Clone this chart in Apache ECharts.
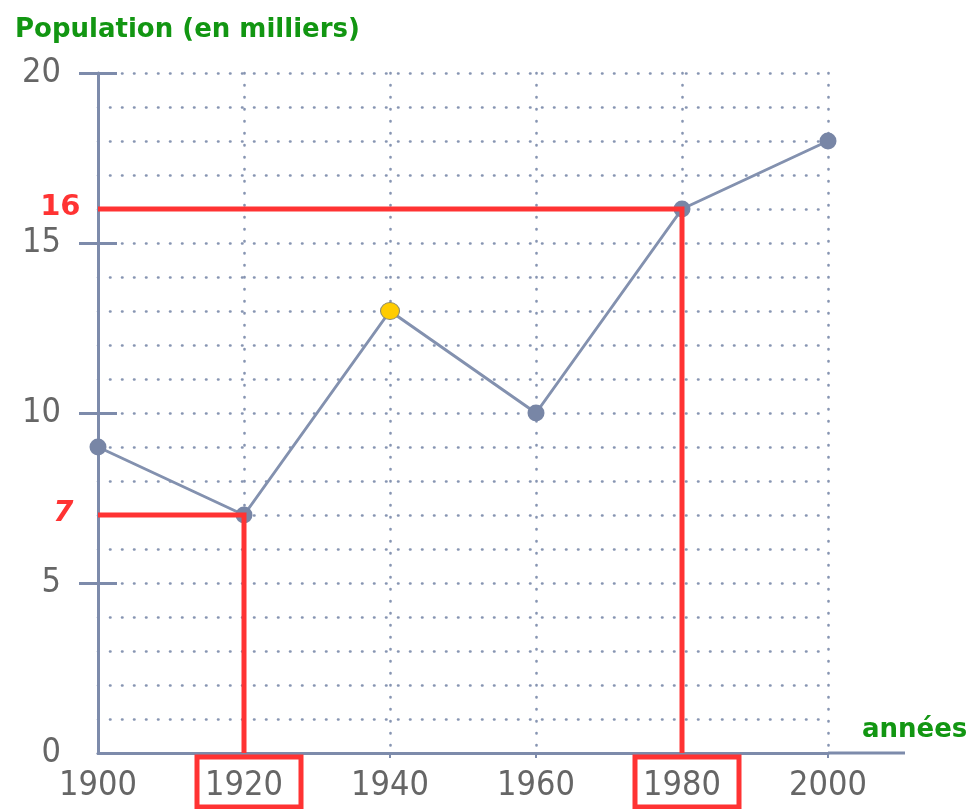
<!DOCTYPE html>
<html><head><meta charset="utf-8">
<script src="https://cdn.jsdelivr.net/npm/echarts@6/dist/echarts.min.js"></script>
<style>html,body{margin:0;padding:0;background:#fff}#c{width:967px;height:809px}</style>
</head><body><div id="c"></div>
<script>
// ---- data ----
const years = [1900, 1920, 1940, 1960, 1980, 2000];
const population = [9, 7, 13, 10, 16, 18];
const yTickLabels = [0, 5, 10, 15, 20];
const yTickMarks = [5, 10, 15, 20];
const xTickLabels = [1900, 1920, 1940, 1960, 1980, 2000];
const readYears = [1920, 1980];
const readValues = [7, 16];
const highlightYear = 1940;

// ---- styles ----
const AXIS = '#7d8bab';
const DOT = '#8795b2';
const RED = '#ff3333';
const GREEN = '#129612';
const TXT = '#666666';
const LBL_FONT = 'DejaVu Sans Condensed';
const dotted = {color: DOT, width: 2.6, type: [0.5, 11.5], cap: 'round'};

const chart = echarts.init(document.getElementById('c'), null, {renderer: 'canvas'});

const mainData = years.map((y, i) => {
  const d = {value: [y, population[i]]};
  if (y === highlightYear) {
    d.itemStyle = {color: '#ffcc00', borderColor: '#8a8a70', borderWidth: 1};
    d.symbolSize = [19, 17];
  }
  return d;
});

const redSeries = readYears.map((yr, i) => ({
  type: 'line',
  z: 10,
  silent: true,
  symbol: 'none',
  clip: false,
  lineStyle: {color: RED, width: 5, cap: 'butt', join: 'miter'},
  data: [[years[0], readValues[i]], [yr, readValues[i]], [yr, 0]]
}));

const redLabels = {
  type: 'scatter', z: 11, silent: true, clip: false,
  symbol: 'circle', symbolSize: 1,
  itemStyle: {color: 'rgba(0,0,0,0)', opacity: 1},
  data: readValues.map(v => ({
    value: [years[0], v],
    label: {distance: v < 10 ? 24 : 17, fontStyle: v < 10 ? 'italic' : 'normal'}
  })),
  label: {
    show: true, position: 'left', offset: [0, -2],
    formatter: p => String(p.value[1]),
    color: RED, fontWeight: 'bold', fontSize: 29, fontFamily: 'DejaVu Sans'
  }
};

chart.setOption({
  animation: false,
  backgroundColor: '#fff',
  title: {
    text: 'Population (en milliers)', left: 10, top: 12,
    textStyle: {color: GREEN, fontWeight: 'bold', fontSize: 26, fontFamily: 'DejaVu Sans'}
  },
  grid: {left: 98, right: 139, top: 73, bottom: 56, containLabel: false, outerBoundsMode: 'none'},
  xAxis: {
    type: 'value', min: 1900, max: 2000, interval: 20,
    name: 'années', nameLocation: 'end', nameGap: 34,
    nameTextStyle: {color: GREEN, fontWeight: 'bold', fontSize: 26, fontFamily: 'DejaVu Sans',
      align: 'left', verticalAlign: 'bottom', padding: [0, 0, 10, 0]},
    axisLine: {show: true, lineStyle: {color: AXIS, width: 3}},
    axisTick: {show: true, length: 5, lineStyle: {color: AXIS, width: 2}, customValues: xTickLabels.slice(1)},
    axisLabel: {color: TXT, fontSize: 34, fontFamily: LBL_FONT, margin: 16,
      customValues: xTickLabels, formatter: v => String(v)},
    splitLine: {show: true, lineStyle: dotted}
  },
  yAxis: [{
    type: 'value', min: 0, max: 20, interval: 1,
    axisLine: {show: true, lineStyle: {color: AXIS, width: 3}},
    axisTick: {show: false},
    axisLabel: {color: TXT, fontSize: 34, fontFamily: LBL_FONT, margin: 37,
      customValues: yTickLabels, formatter: v => String(v)},
    splitLine: {show: true, lineStyle: dotted}
  }, {
    type: 'value', min: 0, max: 20, interval: 5, position: 'left', offset: 0,
    axisLine: {show: false},
    axisTick: {show: true, inside: true, length: 19, lineStyle: {color: AXIS, width: 3}, customValues: yTickMarks},
    axisLabel: {show: false},
    splitLine: {show: false}
  }, {
    type: 'value', min: 0, max: 20, interval: 5, position: 'left', offset: 0,
    axisLine: {show: false},
    axisTick: {show: true, inside: false, length: 19, lineStyle: {color: AXIS, width: 3}, customValues: yTickMarks},
    axisLabel: {show: false},
    splitLine: {show: false}
  }],
  series: [{
    type: 'line', z: 5,
    data: mainData,
    symbol: 'circle', symbolSize: 17,
    itemStyle: {color: '#7886a6'},
    lineStyle: {color: '#8391af', width: 3}
  }].concat(redSeries, [redLabels])
});

// decoration: axis extension, red boxes around read-off labels
const origin = chart.convertToPixel({xAxisIndex: 0, yAxisIndex: 0}, [2000, 0]);
const graphics = [{
  type: 'line', z: 4,
  shape: {x1: origin[0], y1: origin[1], x2: origin[0] + 77, y2: origin[1]},
  style: {stroke: AXIS, lineWidth: 3}
}];
readYears.forEach(yr => {
  const p = chart.convertToPixel({xAxisIndex: 0, yAxisIndex: 0}, [yr, 0]);
  graphics.push({
    type: 'rect', z: 20,
    shape: {x: p[0] - 47, y: p[1] + 4, width: 104, height: 50},
    style: {fill: 'none', stroke: RED, lineWidth: 5}
  });
});
chart.setOption({graphic: graphics});
</script>
</body></html>
